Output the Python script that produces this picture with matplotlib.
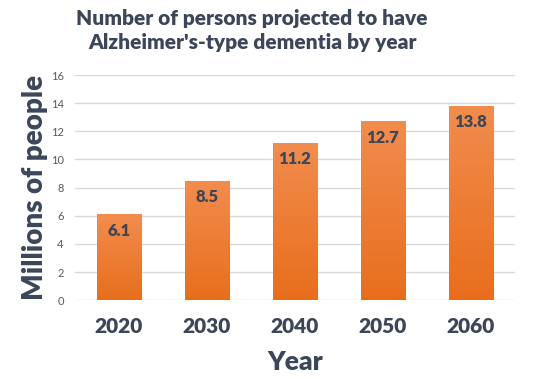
import numpy as np
import matplotlib
matplotlib.use("Agg")
from matplotlib import pyplot as plt
from matplotlib.colors import LinearSegmentedColormap

years = ['2020', '2030', '2040', '2050', '2060']
millions = [6.1, 8.5, 11.2, 12.7, 13.8]
y_ticks = [0, 2, 4, 6, 8, 10, 12, 14, 16]

dark = '#3b4659'
plt.rcParams['font.family'] = ['Lato', 'DejaVu Sans']
W = 'heavy'

fig = plt.figure(figsize=(5.42, 3.79), dpi=100)
ax = fig.add_axes([0.138, 0.208, 0.812, 0.594])

x = np.arange(len(years))
bars = ax.bar(x, millions, width=0.5, color='#ee7d34', zorder=2)

# gradient fill: lighter at top, deeper at bottom
grad = LinearSegmentedColormap.from_list('og', ['#e86e1c', '#f28c4e'])
for b in bars:
    x0, w, h = b.get_x(), b.get_width(), b.get_height()
    img = ax.imshow(np.linspace(0, 1, 100).reshape(-1, 1), cmap=grad, origin='lower',
                    extent=[x0, x0 + w, 0, h], aspect='auto', zorder=3)
    img.set_clip_path(b)

for xi, v in zip(x, millions):
    ax.text(xi, v - 0.6, f'{v}', ha='center', va='top', fontsize=12,
            fontweight=W, color=dark, zorder=4)

ax.set_xlim(-0.5, len(years) - 0.5)
ax.set_ylim(0, 16)
ax.set_yticks(y_ticks)
ax.set_xticks(x)
ax.set_xticklabels(years, fontsize=15, fontweight=W, color=dark)
ax.tick_params(axis='y', labelsize=8, colors='#595959', length=0, pad=8)
ax.tick_params(axis='x', length=0, pad=12)
ax.grid(axis='y', color='#d9d9d9', linewidth=1, zorder=0)
for s in ax.spines.values():
    s.set_visible(False)

ax.set_xlabel('Year', fontsize=19, fontweight=W, color=dark, labelpad=10)
ax.set_ylabel('Millions of people', fontsize=20, fontweight=W, color=dark, labelpad=2)

fig.text(0.465, 0.975, "Number of persons projected to have\nAlzheimer's-type dementia by year",
         ha='center', va='top', fontsize=15, fontweight=W, color=dark,
         linespacing=1.3)

fig.savefig('out.png', dpi=100)
